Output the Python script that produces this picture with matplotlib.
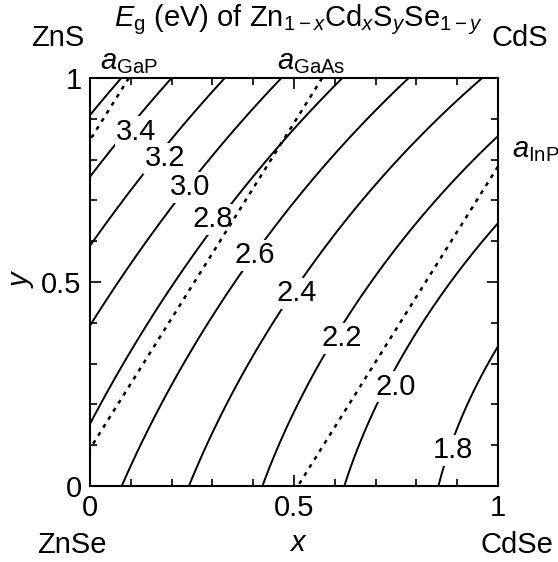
import numpy as np
import matplotlib
matplotlib.use("Agg")
import matplotlib.pyplot as plt
from matplotlib.ticker import MultipleLocator


## ----- DATA ----------------------------- ##

# band gaps of the four binary corners (eV): ZnSe, ZnS, CdSe, CdS
eg_znse, eg_zns, eg_cdse, eg_cds = 2.70, 3.73, 1.69, 2.36
# bowing of the four ternary edges (eV)
bow_zncdse = 0.30   # y = 0
bow_zncds = 0.35    # y = 1
bow_znsse = 0.44    # x = 0
bow_cdsse = 0.53    # x = 1

# lattice constants (A) of the corners and of the substrates
lat_znse, lat_zns, lat_cdse, lat_cds = 5.674, 5.411, 6.094, 5.831
sub_names = ["GaP", "GaAs", "InP"]
sub_lattice = [5.451, 5.650, 5.888]

eg_levels = [1.8, 2.0, 2.2, 2.4, 2.6, 2.8, 3.0, 3.2, 3.4, 3.6]
labelled = [1.8, 2.0, 2.2, 2.4, 2.6, 2.8, 3.0, 3.2, 3.4]

# where the level labels sit (axes data coords)
label_pos = [(0.89, 0.088), (0.75, 0.243), (0.617, 0.362), (0.507, 0.472),
             (0.404, 0.566), (0.302, 0.654), (0.245, 0.732), (0.184, 0.803),
             (0.114, 0.868)]

## ---------------------------------------------------- ##

plt.rcParams['font.family'] = ['Liberation Sans', 'DejaVu Sans']
plt.rcParams['mathtext.fontset'] = 'custom'
plt.rcParams['mathtext.rm'] = 'Liberation Sans'
plt.rcParams['mathtext.it'] = 'Liberation Sans:italic'
fs = 21

x = np.linspace(0, 1, 301)
y = np.linspace(0, 1, 301)
X, Y = np.meshgrid(x, y)

eg = ((1 - X) * (1 - Y) * eg_znse + (1 - X) * Y * eg_zns
      + X * (1 - Y) * eg_cdse + X * Y * eg_cds
      - X * (1 - X) * ((1 - Y) * bow_zncdse + Y * bow_zncds)
      - Y * (1 - Y) * ((1 - X) * bow_znsse + X * bow_cdsse))

lat = ((1 - X) * (1 - Y) * lat_znse + (1 - X) * Y * lat_zns
       + X * (1 - Y) * lat_cdse + X * Y * lat_cds)

fig = plt.figure(figsize=(5.58, 5.62), dpi=100)
ax = fig.add_axes([90 / 558, 1 - 486 / 562, 408 / 558, 408 / 562])

ax.contour(X, Y, eg, levels=eg_levels, colors='black', linewidths=1.4,
           linestyles='solid', zorder=2)
ax.contour(X, Y, lat, levels=sub_lattice, colors='black', linewidths=1.8,
           linestyles=[(0, (1.6, 2.2))], zorder=4)

for lev, (px, py) in zip(labelled, label_pos):
    ax.text(px, py, f"{lev:.1f}", fontsize=fs, ha='center', va='center',
            zorder=3, bbox=dict(facecolor='white', edgecolor='none', pad=1.0))

ax.set_xlim(0, 1)
ax.set_ylim(0, 1)
ax.xaxis.set_major_locator(MultipleLocator(0.5))
ax.yaxis.set_major_locator(MultipleLocator(0.5))
ax.xaxis.set_minor_locator(MultipleLocator(0.1))
ax.yaxis.set_minor_locator(MultipleLocator(0.1))
ax.tick_params(which='both', direction='in', top=True, right=True,
               labelsize=fs, width=1.2, pad=6)
ax.tick_params(which='major', length=8)
ax.tick_params(which='minor', length=5)
ax.set_xticks([0, 0.5, 1])
ax.set_xticklabels(["0", "0.5", "1"])
ax.set_yticks([0, 0.5, 1])
ax.set_yticklabels(["0", "0.5", "1"])
for s in ax.spines.values():
    s.set_linewidth(1.5)

ax.text(-0.167, 0.51, "$y$", transform=ax.transAxes, fontsize=fs,
        rotation=90, ha='center', va='center')
ax.text(0.51, -0.14, "$x$", transform=ax.transAxes, fontsize=fs,
        ha='center', va='center')

# corner compounds
ax.text(-0.078, 1.098, "ZnS", transform=ax.transAxes, fontsize=fs,
        ha='center', va='center')
ax.text(1.054, 1.098, "CdS", transform=ax.transAxes, fontsize=fs,
        ha='center', va='center')
ax.text(-0.044, -0.145, "ZnSe", transform=ax.transAxes, fontsize=fs,
        ha='center', va='center')
ax.text(1.047, -0.145, "CdSe", transform=ax.transAxes, fontsize=fs,
        ha='center', va='center')

ax.text(0.51, 1.142, r"$E_{\rm g}$ (eV) of Zn$_{1-x}$Cd$_x$S$_y$Se$_{1-y}$",
        transform=ax.transAxes, fontsize=fs, ha='center', va='center')

# substrate labels
ax.text(0.025, 1.04, r"$a_{\rm " + sub_names[0] + "}$", transform=ax.transAxes,
        fontsize=fs, ha='left', va='center')
ax.text(0.458, 1.04, r"$a_{\rm " + sub_names[1] + "}$", transform=ax.transAxes,
        fontsize=fs, ha='left', va='center')
ax.text(1.034, 0.824, r"$a_{\rm " + sub_names[2] + "}$", transform=ax.transAxes,
        fontsize=fs, ha='left', va='center')

fig.savefig("out.png", dpi=100)
